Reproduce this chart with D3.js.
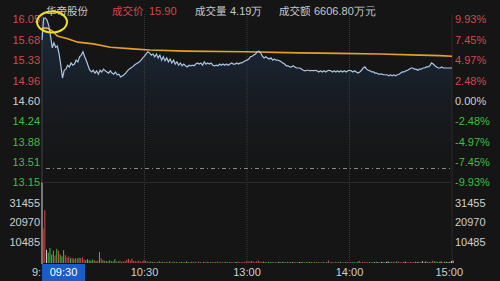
<!DOCTYPE html>
<html>
<head>
<meta charset="utf-8">
<script src="https://cdn.jsdelivr.net/npm/d3@7"></script>
<style>
  html, body { margin: 0; padding: 0; background: #151515; }
  svg { display: block; }
  text { font-family: "Liberation Sans", Arial, sans-serif; font-size: 11px; }
  .cjk { font-family: "Noto Sans CJK SC", sans-serif; font-size: 10.5px; }
</style>
</head>
<body>
<div id="chart"></div>
<script>
// previous close and axis ticks
var prevClose = 14.60;
var priceTicks = [16.05, 15.6875, 15.325, 14.9625, 14.60, 14.2375, 13.875, 13.5125, 13.15];
var priceLabels = ["16.05", "15.68", "15.33", "14.96", "14.60", "14.24", "13.88", "13.51", "13.15"];
var pctLabels = ["9.93%", "7.45%", "4.97%", "2.48%", "0.00%", "-2.48%", "-4.97%", "-7.45%", "-9.93%"];
var volTicks = [31455, 20970, 10485];
var timeTicks = [60, 120, 180, 240];
var timeLabels = ["10:30", "13:00", "14:00", "15:00"];

// minute price, 09:30 .. 15:00 (index = minutes of trading)
var prices = [
  15.66, 16.05, 16.05, 16.01, 15.91, 15.73, 15.52, 15.61, 15.53, 15.55,
  15.41, 15.21, 14.98, 15.12, 15.14, 15.21, 15.18, 15.25, 15.21, 15.23,
  15.30, 15.27, 15.36, 15.39, 15.45, 15.36, 15.29, 15.20, 15.12, 15.09,
  15.12, 15.07, 15.11, 15.05, 15.12, 15.09, 15.14, 15.11, 15.09, 15.07,
  15.11, 15.07, 15.05, 15.09, 15.04, 15.05, 15.00, 15.02, 15.04, 15.07,
  15.11, 15.14, 15.16, 15.18, 15.21, 15.23, 15.25, 15.27, 15.30, 15.34,
  15.37, 15.41, 15.45, 15.43, 15.39, 15.41, 15.36, 15.41, 15.34, 15.39,
  15.30, 15.36, 15.29, 15.34, 15.27, 15.32, 15.25, 15.30, 15.23, 15.27,
  15.21, 15.25, 15.20, 15.23, 15.20, 15.18, 15.21, 15.20, 15.21, 15.20,
  15.23, 15.25, 15.23, 15.25, 15.21, 15.27, 15.23, 15.25, 15.23, 15.25,
  15.21, 15.20, 15.21, 15.20, 15.23, 15.21, 15.23, 15.21, 15.23, 15.21,
  15.23, 15.25, 15.23, 15.23, 15.25, 15.23, 15.25, 15.25, 15.27, 15.29,
  15.30, 15.32, 15.36, 15.37, 15.39, 15.41, 15.45, 15.46, 15.43, 15.37,
  15.34, 15.36, 15.34, 15.32, 15.34, 15.30, 15.32, 15.30, 15.30, 15.29,
  15.27, 15.25, 15.23, 15.20, 15.20, 15.18, 15.18, 15.20, 15.18, 15.16,
  15.16, 15.16, 15.14, 15.12, 15.11, 15.12, 15.12, 15.11, 15.12, 15.11,
  15.12, 15.11, 15.09, 15.11, 15.09, 15.11, 15.09, 15.11, 15.12, 15.11,
  15.09, 15.11, 15.09, 15.11, 15.09, 15.11, 15.09, 15.11, 15.09, 15.11,
  15.12, 15.11, 15.09, 15.11, 15.09, 15.07, 15.09, 15.12, 15.16, 15.18,
  15.14, 15.12, 15.11, 15.09, 15.09, 15.07, 15.07, 15.05, 15.05, 15.05,
  15.04, 15.04, 15.04, 15.02, 15.04, 15.02, 15.04, 15.02, 15.04, 15.05,
  15.07, 15.09, 15.09, 15.11, 15.12, 15.14, 15.16, 15.16, 15.14, 15.14,
  15.12, 15.14, 15.14, 15.16, 15.16, 15.18, 15.18, 15.20, 15.25, 15.23,
  15.20, 15.18, 15.16, 15.16, 15.18, 15.16, 15.16, 15.16, 15.16, 15.16,
  15.16
];

// average price line, read at a few minutes
var avgMinutes = [0, 3, 6, 9, 15, 21, 30, 40, 53, 63, 84, 119, 151, 174, 198, 221, 233, 240];
var avgPrices = [15.87, 15.87, 15.82, 15.73, 15.68, 15.62, 15.59, 15.53, 15.50, 15.48, 15.46, 15.45, 15.43, 15.42, 15.41, 15.39, 15.38, 15.37];

// minute volume (hands)
var volumes = [
  18300, 28000, 7000, 5500, 8000, 4500, 6500, 4000, 7500, 6500,
  4500, 3500, 6800, 4200, 3000, 3500, 2500, 2800, 2200, 2600,
  2400, 2800, 2500, 3000, 1800, 1500, 2000, 1500, 1200, 1800,
  1500, 1000, 1300, 5800, 2500, 1500, 1200, 1000, 800, 1500,
  1000, 800, 2000, 700, 900, 1200, 600, 800, 1000, 1700,
  2200, 1400, 2300, 1100, 900, 800, 1300, 700, 900, 1500,
  1200, 900, 600, 800, 500, 700, 400, 600, 900, 500,
  700, 400, 600, 500, 800, 400, 700, 500, 600, 300,
  500, 700, 400, 600, 900, 500, 400, 700, 500, 600,
  400, 800, 500, 300, 600, 400, 700, 500, 400, 600,
  300, 500, 800, 400, 600, 300, 500, 700, 400, 500,
  600, 400, 300, 500, 700, 400, 500, 300, 600, 800,
  900, 700, 1100, 800, 600, 900, 1300, 700, 500, 800,
  600, 400, 700, 500, 600, 400, 500, 300, 600, 400,
  700, 500, 400, 600, 300, 500, 400, 600, 500, 300,
  500, 400, 600, 300, 500, 700, 400, 500, 300, 600,
  400, 500, 300, 400, 600, 300, 500, 1400, 400, 500,
  300, 600, 400, 500, 700, 300, 400, 600, 500, 300,
  500, 400, 600, 300, 500, 1100, 400, 600, 700, 500,
  400, 600, 300, 500, 400, 700, 500, 300, 600, 400,
  500, 600, 800, 500, 700, 600, 500, 900, 700, 500,
  400, 600, 700, 500, 400, 600, 500, 300, 700, 500,
  600, 400, 1000, 500, 800, 600, 400, 700, 1200, 900,
  700, 500, 600, 800, 500, 700, 600, 400, 500, 1100,
  1300
];

var W = 500, H = 281;
var left = 42, right = 452;

var svg = d3.select("#chart").append("svg")
  .attr("width", W).attr("height", H);

svg.append("rect").attr("width", W).attr("height", H).attr("fill", "#151515");

var x = d3.scaleLinear().domain([0, 240]).range([left, right]);
var yP = d3.scaleLinear().domain([13.15, 16.05]).range([181, 18]);
var yV = d3.scaleLinear().domain([0, 41940]).range([263, 184]);

function priceColor(v) {
  if (Math.abs(v - prevClose) < 0.001) return "#cfcfcf";
  return v > prevClose ? "#d24a4a" : "#3fbf3f";
}

// area fill under the price line
var defs = svg.append("defs");
var grad = defs.append("linearGradient").attr("id", "fillGrad")
  .attr("x1", 0).attr("y1", 0).attr("x2", 0).attr("y2", 1);
grad.append("stop").attr("offset", "0%").attr("stop-color", "#1e3048").attr("stop-opacity", 0.85);
grad.append("stop").attr("offset", "100%").attr("stop-color", "#151515").attr("stop-opacity", 0.2);

var area = d3.area()
  .x(function(d, i) { return x(i); })
  .y0(181)
  .y1(function(d) { return yP(d); });
svg.append("path").datum(prices)
  .attr("d", area)
  .attr("fill", "url(#fillGrad)");

// vertical grid
svg.append("g").selectAll("line").data([60, 120, 180])
  .enter().append("line")
  .attr("x1", function(d) { return x(d); })
  .attr("x2", function(d) { return x(d); })
  .attr("y1", 14).attr("y2", 263)
  .attr("stroke", "#3a3a3a").attr("stroke-width", 1)
  .attr("stroke-dasharray", "1,1");

// frame lines
svg.append("line").attr("x1", left).attr("x2", left).attr("y1", 14).attr("y2", 182)
  .attr("stroke", "#444").attr("stroke-width", 1);
svg.append("line").attr("x1", left).attr("x2", left).attr("y1", 182).attr("y2", 264)
  .attr("stroke", "#dddddd").attr("stroke-width", 1);
svg.append("line").attr("x1", left).attr("x2", right).attr("y1", 182.5).attr("y2", 182.5)
  .attr("stroke", "#2a2a2a");
svg.append("line").attr("x1", right).attr("x2", right).attr("y1", 14).attr("y2", 264)
  .attr("stroke", "#2a2a2a");

// dash-dot line near the bottom of the price panel
svg.append("line").attr("x1", left + 4).attr("x2", right)
  .attr("y1", 168.5).attr("y2", 168.5)
  .attr("stroke", "#8a8a8a").attr("stroke-width", 1)
  .attr("stroke-dasharray", "4,3,1,3");

// average line
var avgData = avgMinutes.map(function(m, i) { return [m, avgPrices[i]]; });
svg.append("path").datum(avgData)
  .attr("d", d3.line().x(function(d) { return x(d[0]); }).y(function(d) { return yP(d[1]); }))
  .attr("fill", "none").attr("stroke", "#e6a02a").attr("stroke-width", 1.6);

// price line
svg.append("path").datum(prices)
  .attr("d", d3.line().x(function(d, i) { return x(i); }).y(function(d) { return yP(d); }))
  .attr("fill", "none").attr("stroke", "#aac6e4").attr("stroke-width", 1.2);

// volume bars
svg.append("g").selectAll("rect").data(volumes)
  .enter().append("rect")
  .attr("x", function(d, i) { return x(i) + 0.6; })
  .attr("width", 1)
  .attr("y", function(d) { return yV(d); })
  .attr("height", function(d) { return 263 - yV(d); })
  .attr("fill", function(d, i) {
    if (i === 0) return "#d24a4a";
    if (prices[i] > prices[i - 1]) return "#d24a4a";
    if (prices[i] < prices[i - 1]) return "#3fbf3f";
    return "#cfcfcf";
  });

// left price labels
svg.append("g").selectAll("text").data(priceTicks)
  .enter().append("text")
  .attr("x", 40).attr("y", function(d) { return yP(d) + 2.5; })
  .attr("text-anchor", "end").attr("dominant-baseline", "middle")
  .attr("fill", function(d) { return priceColor(d); })
  .text(function(d, i) { return priceLabels[i]; });

// right percent labels
svg.append("g").selectAll("text").data(priceTicks)
  .enter().append("text")
  .attr("x", 455).attr("y", function(d) { return yP(d) + 2.5; })
  .attr("dominant-baseline", "middle")
  .attr("fill", function(d) { return priceColor(d); })
  .text(function(d, i) { return pctLabels[i]; });

// volume labels both sides
svg.append("g").selectAll("text").data(volTicks)
  .enter().append("text")
  .attr("x", 40).attr("y", function(d) { return yV(d); })
  .attr("text-anchor", "end").attr("dominant-baseline", "middle")
  .attr("fill", "#cfcfcf").text(function(d) { return d; });
svg.append("g").selectAll("text").data(volTicks)
  .enter().append("text")
  .attr("x", 455).attr("y", function(d) { return yV(d); })
  .attr("dominant-baseline", "middle")
  .attr("fill", "#cfcfcf").text(function(d) { return d; });

// time axis (the 9:30 label is mostly covered by the cursor box)
svg.append("text").attr("x", 32).attr("y", 276)
  .attr("fill", "#cfcfcf").text("9:");
svg.append("rect").attr("x", left).attr("y", 264).attr("width", 43).attr("height", 17)
  .attr("fill", "#1a5cc8");
svg.append("text").attr("x", left + 21.5).attr("y", 276)
  .attr("text-anchor", "middle").attr("fill", "#ffffff").text("09:30");
svg.append("g").selectAll("text").data(timeTicks)
  .enter().append("text")
  .attr("x", function(d) { return x(d); }).attr("y", 276)
  .attr("text-anchor", function(d) { return d === 240 ? "end" : "middle"; })
  .attr("dx", function(d) { return d === 240 ? 11 : 0; })
  .attr("fill", "#cfcfcf")
  .text(function(d, i) { return timeLabels[i]; });

// header
var head = svg.append("g");
head.append("text").attr("class", "cjk").attr("x", 46).attr("y", 14.5)
  .attr("fill", "#c8c8c8").text("华帝股份");
head.append("text").attr("class", "cjk").attr("x", 112).attr("y", 14.5)
  .attr("fill", "#d04848").text("成交价");
head.append("text").attr("x", 149).attr("y", 14.5)
  .attr("fill", "#d04848").text("15.90");
head.append("text").attr("class", "cjk").attr("x", 195).attr("y", 14.5)
  .attr("fill", "#c8c8c8").text("成交量");
head.append("text").attr("x", 230).attr("y", 14.5)
  .attr("fill", "#c8c8c8").text("4.19万");
head.append("text").attr("class", "cjk").attr("x", 279).attr("y", 14.5)
  .attr("fill", "#c8c8c8").text("成交额");
head.append("text").attr("x", 314).attr("y", 14.5)
  .attr("fill", "#c8c8c8").text("6606.80万元");

// yellow marker around the opening spike
svg.append("ellipse").attr("cx", 52).attr("cy", 22).attr("rx", 15).attr("ry", 10.5)
  .attr("fill", "none").attr("stroke", "#f0e020").attr("stroke-width", 2);
</script>
</body>
</html>
